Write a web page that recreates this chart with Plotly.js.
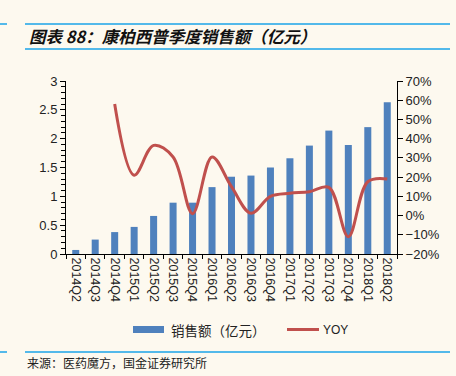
<!DOCTYPE html>
<html><head><meta charset="utf-8">
<script src="https://cdn.plot.ly/plotly-3.0.1.min.js"></script>
<style>html,body{margin:0;padding:0;background:#FDF9EF;}#c{width:456px;height:376px;}</style>
</head><body><div id="c"></div>
<script>
const categories = ['2014Q2','2014Q3','2014Q4','2015Q1','2015Q2','2015Q3','2015Q4','2016Q1','2016Q2','2016Q3','2016Q4','2017Q1','2017Q2','2017Q3','2017Q4','2018Q1','2018Q2'];
const sales = [0.07,0.25,0.38,0.47,0.66,0.89,0.89,1.16,1.34,1.36,1.50,1.66,1.88,2.14,1.89,2.20,2.63];
const yoy = [null,null,58,21,36.5,30.5,1,30.5,15,1.2,10,11.6,12.4,14.7,-11,17.6,19];
const seriesNames = ['销售额（亿元）','YOY'];
const titleText = '图表 88：康柏西普季度销售额（亿元）';
const sourceText = '来源：医药魔方，国金证券研究所';

const L=66, R=397, T=81, B=254, H=B-T, W=R-L;
const py = p => (B - p)/H;
const px = p => (p - L)/W;
const cjk = '"Noto Sans CJK SC", sans-serif';
const lat = '"Liberation Sans", Arial, sans-serif';

const data = [
  {type:'bar', x:categories, y:sales, name:seriesNames[0], marker:{color:'#4F81BD'}, width:0.36, showlegend:false, yaxis:'y'},
  {type:'scatter', mode:'lines', x:categories, y:yoy, name:seriesNames[1], line:{color:'#C0504D', width:3, shape:'spline', smoothing:1}, showlegend:false, yaxis:'y2', connectgaps:false}
];

const blue = '#1AA3E8';
const layout = {
  width:456, height:376,
  margin:{l:L, r:456-R, t:T, b:376-B, pad:0},
  paper_bgcolor:'#FDF9EF', plot_bgcolor:'#FDF9EF',
  font:{family:lat, color:'#222', size:12},
  xaxis:{type:'category', tickangle:90, tickfont:{size:12.5, family:lat, color:'#222'}, showline:true, linecolor:'#000', linewidth:1,
         ticks:'outside', ticklen:4, tickcolor:'#000', tickson:'boundaries', showgrid:false, zeroline:false, range:[-0.5,16.5]},
  yaxis:{range:[0,3], dtick:0.5, showline:true, linecolor:'#000', linewidth:1, ticks:'outside', ticklen:5, tickcolor:'#000',
         showgrid:false, zeroline:false, tickfont:{size:13, family:lat, color:'#222'},
         minor:{dtick:0.1, ticks:'outside', ticklen:4, tickcolor:'#000', showgrid:false}},
  yaxis2:{overlaying:'y', side:'right', range:[-20,70], dtick:10, ticksuffix:'%', showline:true, linecolor:'#000', linewidth:1,
          ticks:'outside', ticklen:5, tickcolor:'#000', showgrid:false, zeroline:false, tickfont:{size:13, family:lat, color:'#222'}},
  shapes:[
    {type:'line', xref:'paper', yref:'paper', x0:px(0), x1:px(7), y0:py(24), y1:py(24), line:{color:blue, width:1.5}},
    {type:'line', xref:'paper', yref:'paper', x0:px(25), x1:px(450), y0:py(24), y1:py(24), line:{color:blue, width:1.5}},
    {type:'line', xref:'paper', yref:'paper', x0:px(25), x1:px(450), y0:py(49), y1:py(49), line:{color:blue, width:1.5}},
    {type:'line', xref:'paper', yref:'paper', x0:px(0), x1:px(7), y0:py(352), y1:py(352), line:{color:blue, width:1.5}},
    {type:'line', xref:'paper', yref:'paper', x0:px(25), x1:px(450), y0:py(352), y1:py(352), line:{color:blue, width:1.5}},
    {type:'rect', xref:'paper', yref:'paper', x0:px(133), x1:px(164), y0:py(326), y1:py(333), fillcolor:'#4F81BD', line:{width:0}},
    {type:'line', xref:'paper', yref:'paper', x0:px(287), x1:px(319), y0:py(329.5), y1:py(329.5), line:{color:'#C0504D', width:3}}
  ],
  annotations:[
    {xref:'paper', yref:'paper', x:px(27), y:py(36), xanchor:'left', yanchor:'middle', showarrow:false,
     text:'<b><i>'+titleText+'</i></b>', font:{family:cjk, size:16.5, color:'#111'}},
    {xref:'paper', yref:'paper', x:px(169), y:py(330), xanchor:'left', yanchor:'middle', showarrow:false,
     text:seriesNames[0], font:{family:cjk, size:13.5, color:'#222'}},
    {xref:'paper', yref:'paper', x:px(321), y:py(330), xanchor:'left', yanchor:'middle', showarrow:false,
     text:seriesNames[1], font:{family:lat, size:12, color:'#222'}},
    {xref:'paper', yref:'paper', x:px(25), y:py(362), xanchor:'left', yanchor:'middle', showarrow:false,
     text:sourceText, font:{family:cjk, size:12, color:'#222'}}
  ]
};
Plotly.newPlot('c', data, layout, {displayModeBar:false, staticPlot:true});
</script></body></html>
